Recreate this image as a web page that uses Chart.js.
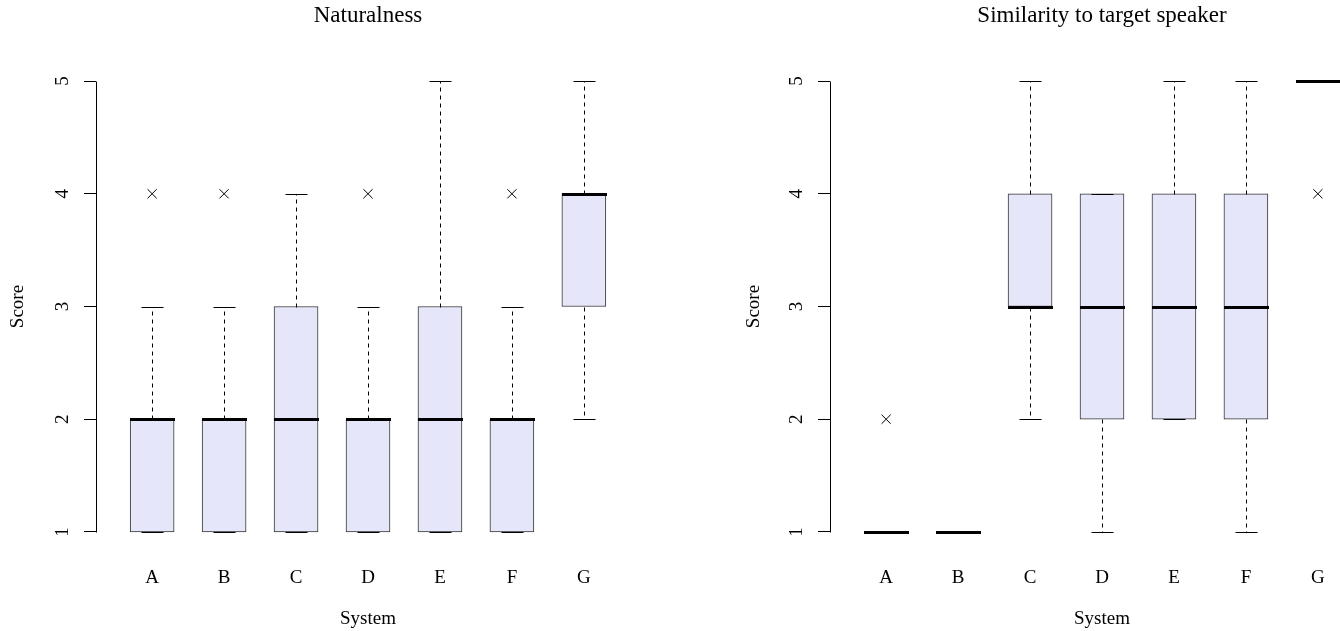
<!DOCTYPE html>
<html>
<head>
<meta charset="utf-8">
<script src="https://cdn.jsdelivr.net/npm/chart.js@4.4.1/dist/chart.umd.min.js"></script>
<style>
  html, body { margin: 0; padding: 0; background: #fff; overflow: hidden; width: 1340px; height: 631px; }
  canvas { position: absolute; top: 0; }
  #naturalnessChart { left: 0; }
  #similarityChart { left: 736px; }
</style>
</head>
<body>
<canvas id="naturalnessChart" width="736" height="631"></canvas>
<canvas id="similarityChart" width="732" height="631"></canvas>
<script>
// Sistemas evaluados
const systems = ['A', 'B', 'C', 'D', 'E', 'F', 'G'];
const scoreTicks = [1, 2, 3, 4, 5];

// Naturalness: cinco números de cada caja
const natMin = [1, 1, 1, 1, 1, 1, 2];
const natQ1  = [1, 1, 1, 1, 1, 1, 3];
const natMed = [2, 2, 2, 2, 2, 2, 4];
const natQ3  = [2, 2, 3, 2, 3, 2, 4];
const natMax = [3, 3, 4, 3, 5, 3, 5];
const natOutSystems = ['A', 'B', 'D', 'F'];
const natOutValues  = [4, 4, 4, 4];

// Similarity to target speaker
const simMin = [1, 1, 2, 1, 2, 1, 5];
const simQ1  = [1, 1, 3, 2, 2, 2, 5];
const simMed = [1, 1, 3, 3, 3, 3, 5];
const simQ3  = [1, 1, 4, 4, 4, 4, 5];
const simMax = [1, 1, 5, 4, 5, 5, 5];
const simOutSystems = ['A', 'G'];
const simOutValues  = [2, 4];

const serif = '"Liberation Serif", "Times New Roman", serif';
const boxFill = '#E6E6FA';

// Bigotes, topes y medianas encima de las cajas; eje y estilo R
const boxParts = {
    id: 'boxParts',
    afterDatasetsDraw(chart, args, opts) {
        const { ctx, chartArea } = chart;
        const xs = chart.scales.x, ys = chart.scales.y;
        const half = 22, cap = 11;
        ctx.save();
        systems.forEach((s, i) => {
            const cx = Math.round(xs.getPixelForValue(i + 1)) + 0.5;
            const yMin = Math.round(ys.getPixelForValue(opts.min[i])) + 0.5;
            const yQ1 = Math.round(ys.getPixelForValue(opts.q1[i])) + 0.5;
            const yQ3 = Math.round(ys.getPixelForValue(opts.q3[i])) + 0.5;
            const yMax = Math.round(ys.getPixelForValue(opts.max[i])) + 0.5;
            const yMed = Math.round(ys.getPixelForValue(opts.med[i]));
            ctx.strokeStyle = '#000';
            ctx.lineWidth = 1;
            // bigotes punteados
            ctx.setLineDash([4, 4]);
            ctx.beginPath();
            ctx.moveTo(cx, yQ3); ctx.lineTo(cx, yMax);
            ctx.moveTo(cx, yQ1); ctx.lineTo(cx, yMin);
            ctx.stroke();
            // topes
            ctx.setLineDash([]);
            ctx.beginPath();
            ctx.moveTo(cx - cap, yMax); ctx.lineTo(cx + cap, yMax);
            ctx.moveTo(cx - cap, yMin); ctx.lineTo(cx + cap, yMin);
            ctx.stroke();
            // mediana gruesa
            ctx.lineWidth = 3;
            ctx.beginPath();
            ctx.moveTo(cx - half - 0.5, yMed + 0.5); ctx.lineTo(cx + half + 0.5, yMed + 0.5);
            ctx.stroke();
        });
        // línea del eje y sólo entre 1 y 5
        const ax = Math.round(chartArea.left) + 0.5;
        ctx.lineWidth = 1;
        ctx.strokeStyle = '#000';
        ctx.beginPath();
        ctx.moveTo(ax, Math.round(ys.getPixelForValue(scoreTicks[0])) + 0.5);
        ctx.lineTo(ax, Math.round(ys.getPixelForValue(scoreTicks[scoreTicks.length - 1])) + 0.5);
        ctx.stroke();
        // etiquetas del eje y giradas (como en R)
        ctx.fillStyle = '#000';
        ctx.font = '19px ' + serif;
        ctx.textAlign = 'center';
        ctx.textBaseline = 'middle';
        scoreTicks.forEach(t => {
            const py = ys.getPixelForValue(t);
            ctx.save();
            ctx.translate(chartArea.left - 33, py);
            ctx.rotate(-Math.PI / 2);
            ctx.fillText(String(t), 0, 0);
            ctx.restore();
        });
        ctx.restore();
    }
};

function crearBoxplot(canvasId, titulo, mins, q1s, meds, q3s, maxs, outSys, outVals, yWidth, rightPad) {
    const ctx = document.getElementById(canvasId).getContext('2d');
    const cajas = systems.map((s, i) => ({ x: i + 1, y: [q1s[i], q3s[i]] }));
    const atipicos = outSys.map((s, i) => ({ x: systems.indexOf(s) + 1, y: outVals[i] }));

    return new Chart(ctx, {
        type: 'bar',
        data: {
            datasets: [{
                data: cajas,
                backgroundColor: boxFill,
                borderColor: '#333',
                borderWidth: 1,
                borderSkipped: false,
                barThickness: 44
            }, {
                type: 'scatter',
                data: atipicos,
                pointStyle: 'crossRot',
                radius: 6.5,
                borderColor: '#000',
                borderWidth: 1,
                backgroundColor: '#000'
            }]
        },
        options: {
            responsive: false,
            animation: false,
            layout: { padding: 0 },
            scales: {
                x: {
                    type: 'linear',
                    offset: false,
                    min: 0.22,
                    max: 7.78,
                    afterBuildTicks: s => { s.ticks = systems.map((c, i) => ({ value: i + 1 })); },
                    afterFit: s => { s.height = 81; },
                    grid: { display: false, drawTicks: false },
                    border: { display: false },
                    ticks: {
                        padding: 17,
                        autoSkip: false,
                        maxRotation: 0,
                        color: '#000',
                        font: { family: serif, size: 19 },
                        callback: v => systems[v - 1] || ''
                    },
                    title: {
                        display: true,
                        text: 'System',
                        color: '#000',
                        font: { family: serif, size: 19 },
                        padding: { top: 0, bottom: 1 }
                    }
                },
                y: {
                    min: 0.84,
                    max: 5.16,
                    afterBuildTicks: s => { s.ticks = scoreTicks.map(v => ({ value: v })); },
                    afterFit: s => { s.width = yWidth; },
                    grid: { drawOnChartArea: false, drawTicks: true, tickLength: 12, color: '#000' },
                    border: { display: false },
                    ticks: { display: false },
                    title: {
                        display: true,
                        text: 'Score',
                        color: '#000',
                        font: { family: serif, size: 19 },
                        padding: { top: 7, bottom: 0 }
                    }
                },
                // eje vacío a la derecha para centrar el título sobre el área del gráfico
                yPad: {
                    position: 'right',
                    display: true,
                    afterFit: s => { s.width = rightPad; },
                    grid: { display: false },
                    border: { display: false },
                    ticks: { display: false }
                }
            },
            plugins: {
                legend: { display: false },
                tooltip: { enabled: false },
                title: {
                    display: true,
                    text: titulo,
                    color: '#000',
                    font: { family: serif, size: 23, weight: 'normal' },
                    padding: { top: 2, bottom: 33.4 }
                },
                boxParts: { min: mins, q1: q1s, med: meds, q3: q3s, max: maxs }
            }
        },
        plugins: [boxParts]
    });
}

crearBoxplot('naturalnessChart', 'Naturalness',
    natMin, natQ1, natMed, natQ3, natMax, natOutSystems, natOutValues, 96, 96);
crearBoxplot('similarityChart', 'Similarity to target speaker',
    simMin, simQ1, simMed, simQ3, simMax, simOutSystems, simOutValues, 94, 94);
</script>
</body>
</html>
